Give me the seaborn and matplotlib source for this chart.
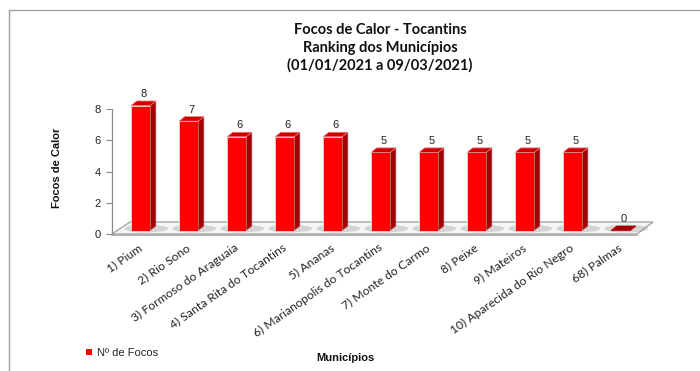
import matplotlib
matplotlib.use("Agg")
import matplotlib.pyplot as plt
import matplotlib.transforms as mtransforms
from matplotlib.patches import Polygon, Patch, Ellipse
from matplotlib.lines import Line2D
import seaborn as sns
import pandas as pd

# Ranking of municipalities by number of fire hotspots
municipios = [
    "1) Pium",
    "2) Rio Sono",
    "3) Formoso do Araguaia",
    "4) Santa Rita do Tocantins",
    "5) Ananas",
    "6) Marianopolis do Tocantins",
    "7) Monte do Carmo",
    "8) Peixe",
    "9) Mateiros",
    "10) Aparecida do Rio Negro",
    "68) Palmas",
]
focos = [8, 7, 6, 6, 6, 5, 5, 5, 5, 5, 0]
yticks = [0, 2, 4, 6, 8]

titulo = "Focos de Calor - Tocantins\nRanking dos Municípios\n(01/01/2021 a 09/03/2021)"
rotulo_y = "Focos de Calor"
rotulo_x = "Municípios"
legenda = "Nº de Focos"

df = pd.DataFrame({"municipio": municipios, "focos": focos})

sns.set_theme(style="white")
plt.rcParams["font.family"] = ["Liberation Sans", "DejaVu Sans"]

W, H, DPI = 700, 371, 100
fig = plt.figure(figsize=(W / DPI, H / DPI), dpi=DPI)


def fx(px):
    return px / W


def fy(py):
    return 1 - py / H


# plot area in pixel terms
ax_left, ax_right, ax_top, ax_bottom = 112, 640, 109, 234
ax = fig.add_axes([fx(ax_left), fy(ax_bottom), fx(ax_right - ax_left), (ax_bottom - ax_top) / H])
ax.set_zorder(1)

FRONT = "#ff0000"
SIDE = "#a30000"
TOP = "#d00000"

sns.barplot(data=df, x="municipio", y="focos", color=FRONT, saturation=1,
            width=0.4, edgecolor="#f6c2c2", linewidth=0.7, ax=ax, zorder=3)

ax.set_xlim(-0.6, len(municipios) - 0.6)
ax.set_ylim(0, 8)
ax.set_yticks(yticks)
ax.set_xlabel("")
ax.set_ylabel("")

for side in ("top", "right", "bottom"):
    ax.spines[side].set_visible(False)
ax.spines["left"].set_color("#8c8c8c")
ax.spines["left"].set_linewidth(0.9)
ax.tick_params(axis="y", left=True, length=4, width=0.8, color="#8c8c8c",
               pad=4, labelsize=8, labelcolor="#222222")
ax.tick_params(axis="x", length=0, pad=9)
for lbl in ax.get_xticklabels():
    lbl.set_rotation(35)
    lbl.set_ha("right")
    lbl.set_va("center")
    lbl.set_rotation_mode("anchor")
    lbl.set_fontfamily(["Lato", "DejaVu Sans"])
    lbl.set_fontsize(8.7)
    lbl.set_color("#222222")
ax.patch.set_alpha(0)

# pixel scale of the data axes
p0 = ax.transData.transform((0, 0))
p1 = ax.transData.transform((1, 1))
ppx, ppy = p1[0] - p0[0], p1[1] - p0[1]

depth_x, depth_y, lift = 5.5, 4.5, 3.5
ddx, ddy = depth_x / ppx, depth_y / ppy
shift = ax.transData + mtransforms.ScaledTranslation(0, lift / DPI, fig.dpi_scale_trans)

# floor of the 3D plot, drawn beneath the axes
fl, fr, fb, fk = 112, 637, 234, 222
floor = Polygon([(fx(fl), fy(fb)), (fx(fr), fy(fb)), (fx(fr + 16), fy(fk)), (fx(fl + 18), fy(fk))],
                closed=True, transform=fig.transFigure, facecolor="#f5f5f5",
                edgecolor="#a6a6a6", linewidth=1.0, zorder=-2)
fig.patches.append(floor)
fig.lines.append(Line2D([fx(fl), fx(fr)], [fy(fb) - 0.6 / H, fy(fb) - 0.6 / H],
                        transform=fig.transFigure, color="#b0b0b0", linewidth=1.4, zorder=-1))

bars = [p for p in ax.patches]
for p, v in zip(bars, focos):
    x0, w = p.get_x(), p.get_width()
    h = v
    p.set_transform(shift)
    p.set_clip_on(False)
    # soft shadow on the floor
    ax.add_patch(Ellipse((x0 + w / 2 + ddx, 0.12), w * 2.3, 0.5, transform=shift,
                         facecolor="#8a8a8a", alpha=0.3, edgecolor="none", zorder=1,
                         clip_on=False))
    # right side face
    ax.add_patch(Polygon([(x0 + w, 0), (x0 + w + ddx, ddy), (x0 + w + ddx, h + ddy), (x0 + w, h)],
                         closed=True, transform=shift, facecolor=SIDE,
                         edgecolor="#c86a6a", linewidth=0.4, zorder=3, clip_on=False))
    # top face
    ax.add_patch(Polygon([(x0, h), (x0 + w, h), (x0 + w + ddx, h + ddy), (x0 + ddx, h + ddy)],
                         closed=True, transform=shift, facecolor=TOP if h > 0 else SIDE,
                         edgecolor="#e88080" if h > 0 else SIDE, linewidth=0.5, zorder=4,
                         clip_on=False))
    ax.text(x0 + w / 2 + ddx / 2, h + ddy + 0.12, f"{v:g}", transform=shift,
            ha="center", va="bottom", fontsize=8, color="#222222", zorder=5, clip_on=False)

# titles and axis labels
fig.text(fx(380), fy(48), titulo, ha="center", va="center", fontsize=10.5,
         fontweight="bold", family=["Lato", "DejaVu Sans"], linespacing=1.3, color="#111111")
fig.text(fx(57), fy(168), rotulo_y, rotation=90, ha="center", va="center",
         fontsize=8, fontweight="bold", color="#111111")
fig.text(fx(345), fy(358), rotulo_x, ha="center", va="center",
         fontsize=8, fontweight="bold", color="#111111")

fig.legend(handles=[Patch(facecolor=FRONT, edgecolor="none")], labels=[legenda],
           loc="center left", bbox_to_anchor=(fx(86), fy(353)), frameon=False,
           fontsize=8, handlelength=0.55, handleheight=0.55, handletextpad=0.4,
           borderpad=0, borderaxespad=0)

# outer chart frame
frame_kw = dict(transform=fig.transFigure, color="#a0a0a0", linewidth=1.0)
fig.lines.append(Line2D([fx(9), 1], [fy(10), fy(10)], **frame_kw))
fig.lines.append(Line2D([fx(9), fx(9)], [fy(10), 0], **frame_kw))

fig.savefig("out.png", dpi=DPI, facecolor="white")
